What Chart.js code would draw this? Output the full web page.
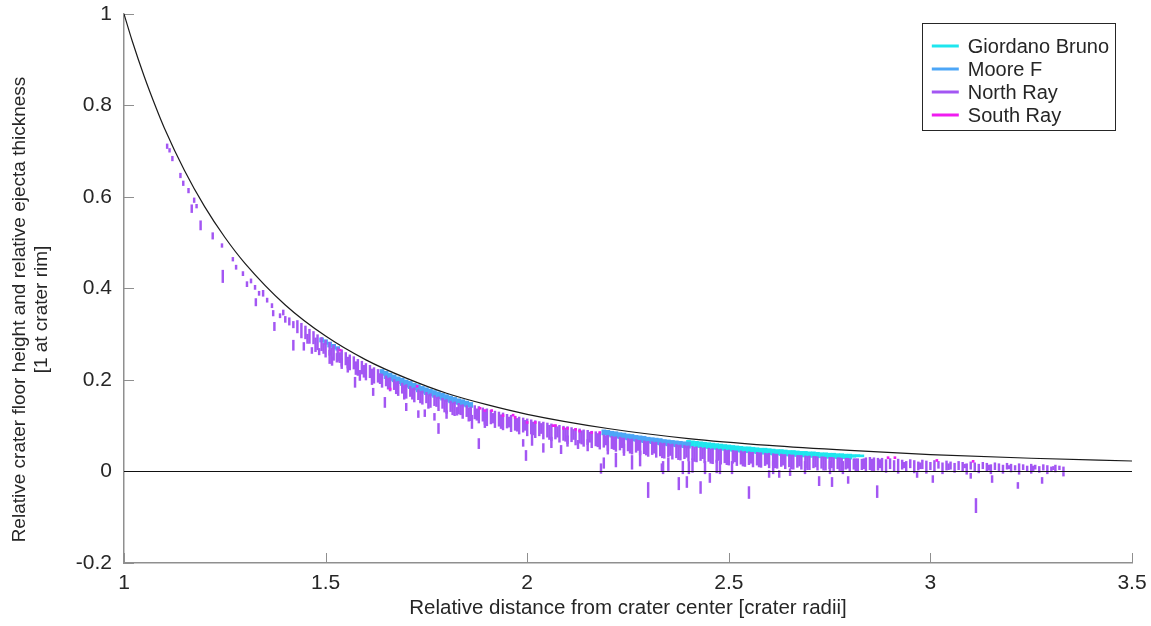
<!DOCTYPE html>
<html><head><meta charset="utf-8">
<script src="https://cdn.jsdelivr.net/npm/chart.js@4.4.1/dist/chart.umd.min.js"></script>
<style>html,body{margin:0;padding:0;background:#fff}#wrap{width:1151px;height:626px}</style>
</head><body><div id="wrap"><canvas id="c" width="1151" height="626"></canvas></div>
<script>
// ---------- data ----------
const xTickVals = [1, 1.5, 2, 2.5, 3, 3.5];
const xTickLabels = ['1', '1.5', '2', '2.5', '3', '3.5'];
const yTickVals = [-0.2, 0, 0.2, 0.4, 0.6, 0.8, 1];
const yTickLabels = ['-0.2', '0', '0.2', '0.4', '0.6', '0.8', '1'];
const xTitle = 'Relative distance from crater center [crater radii]';
const yTitle = ['Relative crater floor height and relative ejecta thickness', '[1 at crater rim]'];
const seriesNames = ['Giordano Bruno', 'Moore F', 'North Ray', 'South Ray'];

// envelope curve
const curveX = [1, 1.02, 1.05, 1.08, 1.1, 1.15, 1.2, 1.25, 1.3, 1.4, 1.5, 1.6, 1.7, 1.8, 1.9, 2, 2.2, 2.4, 2.6, 2.8, 3, 3.25, 3.5];
const curveY = [1, .942, .864, .794, .751, .658, .579, .512, .455, .364, .296, .244, .204, .171, .146, .125, .094, .072, .057, .046, .037, .029, .023];
const zeroX = [1, 3.5];

// [x, top, bottom] dashes
const gbRows = [
[2.40,.068,.056],[2.41,.067,.055],[2.42,.066,.053],[2.43,.065,.052],[2.44,.064,.051],[2.45,.063,.050],[2.46,.062,.049],[2.47,.061,.048],[2.48,.060,.047],[2.49,.059,.046],
[2.50,.058,.045],[2.51,.057,.044],[2.52,.056,.043],[2.53,.055,.042],[2.54,.054,.041],[2.55,.054,.041],[2.56,.053,.040],[2.57,.052,.039],[2.58,.051,.038],[2.59,.051,.038],
[2.60,.050,.037],[2.61,.049,.036],[2.62,.048,.036],[2.63,.048,.035],[2.64,.047,.034],[2.65,.046,.034],[2.66,.046,.033],[2.67,.045,.033],[2.68,.044,.032],[2.69,.044,.032],
[2.70,.043,.031],[2.71,.043,.031],[2.72,.042,.030],[2.73,.041,.030],[2.74,.041,.029],[2.75,.040,.029],[2.76,.040,.029],[2.77,.039,.028],[2.78,.039,.028],[2.79,.038,.028],
[2.80,.038,.027],[2.81,.037,.031],[2.82,.037,.032],[2.83,.036,.032]
];
const mfRows = [
[1.49,.292,.283],[1.50,.288,.278],[1.51,.283,.272],[1.52,.278,.268],[1.53,.273,.265],
[1.64,.223,.210],[1.65,.219,.203],[1.66,.215,.199],[1.67,.211,.196],[1.68,.207,.192],[1.69,.204,.188],[1.70,.200,.184],[1.71,.197,.181],[1.72,.193,.178],[1.73,.190,.174],
[1.74,.186,.171],[1.75,.183,.168],[1.76,.180,.165],[1.77,.177,.162],[1.78,.174,.159],[1.79,.171,.156],[1.80,.168,.153],[1.81,.165,.150],[1.82,.162,.148],[1.83,.159,.146],
[1.84,.157,.143],[1.85,.154,.141],[1.86,.151,.140],
[2.19,.091,.080],[2.20,.090,.077],[2.21,.088,.075],[2.22,.087,.073],[2.23,.085,.072],[2.24,.084,.070],[2.25,.082,.069],[2.26,.081,.067],[2.27,.079,.066],[2.28,.078,.064],
[2.29,.077,.063],[2.30,.075,.062],[2.31,.074,.061],[2.32,.073,.059],[2.33,.072,.058],[2.34,.070,.057],[2.35,.069,.056],[2.36,.068,.055],[2.37,.067,.054],[2.38,.066,.053],
[2.39,.065,.052],[2.40,.064,.051]
];
const nrBand = [
[1.43,.330,.303],[1.44,.324,.292],[1.45,.318,.290],[1.46,.311,.280],[1.47,.306,.279],[1.48,.299,.266],[1.49,.293,.264],[1.50,.287,.250],[1.51,.282,.254],[1.52,.276,.243],
[1.53,.271,.241],[1.54,.266,.230],[1.55,.260,.233],[1.56,.255,.222],[1.57,.251,.224],[1.58,.245,.210],[1.59,.241,.213],[1.60,.236,.200],[1.61,.232,.205],[1.62,.227,.193],
[1.63,.223,.195],[1.64,.213,.184],[1.65,.209,.187],[1.66,.205,.176],[1.67,.201,.179],[1.68,.197,.166],[1.69,.193,.171],[1.70,.190,.160],[1.71,.186,.164],[1.72,.183,.152],
[1.73,.179,.157],[1.74,.176,.147],[1.75,.173,.150],[1.76,.170,.140],[1.77,.166,.144],[1.78,.163,.133],[1.79,.160,.138],[1.80,.157,.127],[1.81,.154,.131],[1.82,.152,.122],
[1.83,.149,.126],[1.84,.146,.116],[1.85,.144,.120],[1.86,.141,.111],[1.87,.144,.115],[1.88,.142,.106],[1.89,.139,.110],[1.90,.137,.100],[1.91,.134,.104],[1.92,.132,.096],
[1.93,.130,.099],[1.94,.128,.091],[1.95,.125,.095],[1.96,.123,.087],[1.97,.121,.090],[1.98,.119,.082],[1.99,.117,.086],[2.00,.115,.078],[2.01,.113,.082],[2.02,.111,.074],
[2.03,.109,.078],[2.04,.108,.071],[2.05,.106,.075],[2.06,.104,.067],[2.07,.102,.071],[2.08,.101,.064],[2.09,.099,.068],[2.10,.098,.061],[2.11,.096,.065],[2.12,.094,.058],
[2.13,.093,.062],[2.14,.091,.055],[2.15,.090,.059],[2.16,.088,.052],[2.17,.087,.056],[2.18,.085,.049],[2.19,.080,.053],[2.20,.079,.046],[2.21,.077,.050],[2.22,.076,.044],
[2.23,.075,.047],[2.24,.073,.041],[2.25,.072,.045],[2.26,.071,.038],[2.27,.070,.042],[2.28,.068,.036],[2.29,.067,.039],[2.30,.066,.033],[2.31,.065,.037],[2.32,.064,.031],
[2.33,.063,.034],[2.34,.062,.029],[2.35,.061,.032],[2.36,.060,.027],[2.37,.059,.030],[2.38,.058,.025],[2.39,.057,.028],[2.40,.056,.023],[2.41,.055,.026],[2.42,.054,.021],
[2.43,.053,.024],[2.44,.052,.019],[2.45,.051,.022],[2.46,.050,.017],[2.47,.050,.020],[2.48,.049,.016],[2.49,.048,.019],[2.50,.047,.014],[2.51,.046,.018],[2.52,.045,.013],
[2.53,.045,.016],[2.54,.044,.011],[2.55,.043,.015],[2.56,.042,.010],[2.57,.042,.014],[2.58,.041,.009],[2.59,.040,.013],[2.60,.040,.008],[2.61,.039,.012],[2.62,.038,.007],
[2.63,.038,.011],[2.64,.037,.006],[2.65,.037,.010],[2.66,.036,.005],[2.67,.035,.009],[2.68,.035,.005],[2.69,.034,.008],[2.70,.034,.004],[2.71,.033,.008],[2.72,.032,.003],
[2.73,.032,.007],[2.74,.031,.003],[2.75,.031,.006],[2.76,.030,.002],[2.77,.030,.006],[2.78,.029,.002],[2.79,.029,.005],[2.80,.028,.001],[2.81,.028,.005],[2.82,.028,.001],
[2.83,.027,.004],[2.84,.030,.000],[2.85,.031,.004],[2.86,.030,.000],[2.87,.029,.003],[2.88,.029,.002],[2.89,.026,-.002],[2.90,.028,.006],[2.91,.024,.001],[2.92,.027,-.004],
[2.93,.025,.005],[2.94,.022,.000],[2.95,.026,.008],[2.96,.024,-.003],[2.97,.021,.003],[2.98,.025,.006],[2.99,.023,-.004],[3.00,.020,.004],[3.01,.024,.000],[3.02,.022,.007],
[3.03,.019,-.005],[3.04,.023,.003],[3.05,.021,.005],[3.06,.018,-.002],[3.07,.022,.004],[3.08,.020,.001],[3.09,.017,-.006],[3.10,.021,.005],[3.11,.019,.002],[3.12,.016,-.003],
[3.13,.020,.006],[3.14,.018,.000],[3.15,.015,-.005],[3.16,.019,.004],[3.17,.017,.002],[3.18,.014,-.004],[3.19,.018,.005],[3.20,.016,-.001],[3.21,.013,.003],[3.22,.017,-.006],
[3.23,.015,.004],[3.24,.012,.001],[3.25,.016,-.004],[3.26,.014,.005],[3.27,.011,-.002],[3.28,.015,.003],[3.29,.013,-.005],[3.30,.010,.002],[3.31,.014,-.001],[3.32,.012,.004],
[3.33,.010,.001]
];
const nrFill = [
[1.455,.300,.280],[1.475,.292,.262],[1.495,.280,.258],[1.515,.270,.236],[1.535,.260,.238],[1.555,.250,.226],[1.575,.240,.212],[1.595,.232,.206],[1.615,.224,.190],[1.635,.214,.192],
[1.655,.204,.180],[1.675,.196,.170],[1.695,.188,.158],[1.715,.181,.158],[1.735,.175,.150],[1.755,.168,.138],[1.775,.162,.142],[1.795,.156,.130],[1.815,.150,.124],[1.835,.145,.124],
[1.855,.139,.110],[1.875,.137,.112],[1.895,.131,.103],[1.915,.127,.106],[1.935,.124,.094],[1.955,.119,.097],[1.975,.116,.088],[1.995,.112,.090],[2.015,.108,.080],[2.035,.105,.083],
[2.055,.101,.070],[2.075,.098,.075],[2.095,.095,.066],[2.115,.092,.070],[2.135,.089,.060],[2.155,.086,.064],[2.175,.083,.054],[2.195,.078,.058],[2.215,.075,.048],[2.235,.073,.052],
[2.255,.070,.040],[2.275,.068,.046],[2.295,.065,.036],[2.315,.063,.040],[2.335,.061,.030],[2.355,.059,.035],[2.375,.057,.026],[2.395,.055,.031],[2.415,.053,.022],[2.435,.051,.028],
[2.455,.049,.018],[2.475,.048,.024],[2.495,.046,.015],[2.515,.045,.021],[2.535,.043,.012],[2.555,.042,.018],[2.575,.041,.010],[2.595,.039,.016],[2.615,.038,.008],[2.635,.037,.014],
[2.655,.036,.006],[2.675,.035,.012],[2.695,.033,.004],[2.715,.033,.010],[2.735,.032,.003],[2.755,.031,.008],[2.775,.030,.002],[2.795,.029,.007],[2.815,.028,.001],[2.835,.028,.006],
[2.855,.027,.002],[2.875,.026,.008],[2.935,.020,.008],[2.975,.019,.006],[3.045,.017,.004],[3.085,.016,.008],[3.145,.014,.003],[3.195,.013,.006],[3.255,.012,.002],[3.305,.011,.004]
];
const nrScatter = [
[1.107,.716,.706],[1.113,.706,.698],[1.12,.689,.679],[1.14,.652,.642],[1.147,.635,.625],[1.16,.619,.609],[1.174,.598,.588],[1.168,.583,.566],[1.18,.584,.576],[1.19,.548,.528],
[1.22,.522,.508],[1.243,.498,.490],[1.245,.440,.413],[1.27,.468,.460],[1.278,.451,.442],[1.295,.437,.428],[1.305,.415,.404],[1.315,.421,.412],[1.325,.407,.398],[1.335,.394,.385],
[1.327,.378,.362],[1.345,.396,.383],[1.355,.379,.370],[1.367,.367,.358],[1.37,.352,.340],[1.373,.326,.308],[1.387,.345,.336],[1.395,.353,.342],[1.40,.339,.326],[1.41,.336,.320],
[1.42,.328,.314],[1.42,.287,.265],[1.446,.282,.265],[1.466,.271,.258],[1.484,.269,.255],[1.51,.265,.236],[1.516,.250,.232],[1.528,.258,.239],[1.54,.247,.225],[1.555,.238,.217],
[1.573,.206,.184],[1.585,.221,.199],[1.618,.182,.166],[1.647,.162,.140],[1.70,.149,.133],[1.73,.133,.118],[1.746,.135,.120],[1.77,.127,.112],[1.78,.105,.083],[1.80,.133,.116],
[1.826,.140,.123],[1.863,.123,.094],[1.88,.072,.050],[1.895,.118,.096],[1.99,.070,.055],[1.997,.046,.024],[2.012,.083,.057],[2.04,.061,.042],[2.06,.075,.052],[2.084,.057,.039],
[2.10,.078,.055],[2.126,.068,.050],[2.15,.070,.045],[2.183,.017,-.004],[2.19,.030,.007],[2.20,.065,.038],[2.22,.040,.010],[2.24,.060,.035],[2.26,.035,.005],[2.28,.045,.012],
[2.30,-.024,-.057],[2.334,.017,.000],[2.337,.022,-.005],[2.35,.030,.002],[2.376,-.013,-.040],[2.386,.022,-.005],[2.396,-.011,-.035],[2.401,.022,-.005],[2.41,.028,-.002],[2.43,-.022,-.048],
[2.441,.022,-.005],[2.453,-.004,-.024],[2.47,.025,-.003],[2.478,.022,-.005],[2.508,.022,-.005],[2.55,-.033,-.059],[2.60,.002,-.013],[2.61,.022,-.005],[2.625,.002,-.013],[2.652,.006,-.009],
[2.689,.022,-.005],[2.724,-.011,-.031],[2.751,.022,-.005],[2.756,-.013,-.033],[2.783,.022,-.005],[2.796,-.011,-.026],[2.868,-.031,-.057],[2.967,-.002,-.013],[3.006,-.009,-.024],[3.10,-.004,-.015],
[3.113,-.059,-.090],[3.153,-.009,-.024],[3.217,-.024,-.037],[3.277,-.013,-.026],[3.33,-.002,-.010]
];
const srRows = [
[1.536,.267,.263],[1.66,.182,.178],[1.727,.188,.184],[1.883,.140,.136],[1.895,.135,.131],[1.912,.135,.131],[1.94,.124,.120],[1.965,.125,.121],[1.97,.120,.116],[2.0,.109,.105],
[2.02,.109,.105],[2.064,.102,.098],[2.07,.102,.098],[2.09,.096,.092],[2.1,.096,.092],[2.12,.094,.090],[2.13,.090,.086],[2.16,.087,.083],[2.18,.087,.083],[2.895,.032,.028],
[2.912,.032,.028],[3.016,.026,.022],[3.106,.024,.020]
];

// ---------- styles ----------
const FONT = '"Liberation Sans", Arial, Helvetica, sans-serif';
const TXT = '#262626';
const AXIS = '#8f8f8f';
const COL = { gb: '#1ee6ee', mf: '#4da6f7', nr: '#a356f3', sr: '#f01cf0' };

const toBars = rows => rows.map(r => ({ x: r[0], y: [r[2], r[1]] }));
const toLine = (xs, ys) => xs.map((x, i) => ({ x, y: ys[i] }));

const inwardTicks = {
  id: 'inwardTicks',
  beforeDatasetsDraw(chart) {
    const { ctx, chartArea: ca, scales: { x, y } } = chart;
    ctx.save();
    ctx.strokeStyle = AXIS; ctx.lineWidth = 1;
    ctx.beginPath();
    x.ticks.forEach(t => { const px = Math.round(x.getPixelForValue(t.value)) + 0.5; ctx.moveTo(px, ca.bottom); ctx.lineTo(px, ca.bottom - 10); });
    y.ticks.forEach(t => { const py = Math.round(y.getPixelForValue(t.value)) + 0.5; ctx.moveTo(ca.left, py); ctx.lineTo(ca.left + 10, py); });
    ctx.stroke();
    ctx.restore();
  }
};

// y-axis title (two lines, rotated), sitting a little below the axis middle as in the reference
const yTitlePlugin = {
  id: 'yTitlePlugin',
  afterDraw(chart) {
    const { ctx, chartArea: ca } = chart;
    ctx.save();
    ctx.font = '19px ' + FONT;
    ctx.fillStyle = TXT;
    ctx.textAlign = 'center'; ctx.textBaseline = 'middle';
    const cy = (ca.top + ca.bottom) / 2 + 21;
    yTitle.forEach((line, i) => {
      ctx.save();
      ctx.translate(20 + i * 22, cy);
      ctx.rotate(-Math.PI / 2);
      ctx.fillText(line, 0, 0);
      ctx.restore();
    });
    ctx.restore();
  }
};

const legendBox = {
  id: 'legendBox',
  afterDraw(chart) {
    const { ctx, chartArea: ca } = chart;
    const items = chart.data.datasets.filter(d => d.inLegend);
    ctx.save();
    ctx.font = '20px ' + FONT;
    const maxW = Math.max(...items.map(d => ctx.measureText(d.label).width));
    const padL = 10, lineLen = 27, gap = 9, padR = 6, rowH = 23, firstRow = 23;
    const w = padL + lineLen + gap + maxW + padR;
    const h = firstRow + rowH * (items.length - 1) + 15;
    const right = ca.right - 17, top = ca.top + 9, left = right - w;
    ctx.fillStyle = '#fff';
    ctx.fillRect(left, top, w, h);
    ctx.strokeStyle = '#262626'; ctx.lineWidth = 1;
    ctx.strokeRect(Math.round(left) + 0.5, Math.round(top) + 0.5, Math.round(w), Math.round(h));
    items.forEach((d, i) => {
      const cy = top + firstRow + i * rowH;
      ctx.strokeStyle = d.backgroundColor; ctx.lineWidth = 3;
      ctx.beginPath(); ctx.moveTo(left + padL, cy); ctx.lineTo(left + padL + lineLen, cy); ctx.stroke();
      ctx.fillStyle = TXT; ctx.textBaseline = 'middle'; ctx.textAlign = 'left';
      ctx.fillText(d.label, left + padL + lineLen + gap, cy + 1);
    });
    ctx.restore();
  }
};

new Chart(document.getElementById('c'), {
  type: 'bar',
  data: {
    datasets: [
      { type: 'line', label: 'envelope', data: toLine(curveX, curveY), borderColor: '#1a1a1a', borderWidth: 1.2, pointRadius: 0, cubicInterpolationMode: 'monotone', order: 0 },
      { type: 'line', label: 'zero', data: toLine(zeroX, [0, 0]), borderColor: '#111', borderWidth: 1, pointRadius: 0, order: 0 },
      { label: seriesNames[0], data: toBars(gbRows), backgroundColor: COL.gb, barThickness: 4, grouped: false, minBarLength: 2, order: 4, inLegend: true },
      { label: seriesNames[1], data: toBars(mfRows), backgroundColor: COL.mf, barThickness: 4, grouped: false, minBarLength: 2, order: 3, inLegend: true },
      { label: seriesNames[2], data: toBars(nrBand.concat(nrFill, nrScatter)), backgroundColor: COL.nr, barThickness: 1.8, grouped: false, minBarLength: 2, order: 2, inLegend: true },
      { label: seriesNames[3], data: toBars(srRows), backgroundColor: COL.sr, barThickness: 2, grouped: false, minBarLength: 2, order: 1, inLegend: true }
    ]
  },
  options: {
    responsive: false, animation: false, devicePixelRatio: 1,
    layout: { padding: { left: 0, right: 19, top: 14, bottom: 0 } },
    plugins: { legend: { display: false }, tooltip: { enabled: false } },
    scales: {
      x: {
        type: 'linear', min: 1, max: 3.5, offset: false,
        grid: { display: true, drawOnChartArea: false, drawTicks: false },
        border: { color: AXIS, width: 1.5 },
        afterBuildTicks: s => { s.ticks = xTickVals.map(v => ({ value: v })); },
        afterFit: s => { s.height = 63; s.paddingLeft = 0; s.paddingRight = 0; },
        ticks: { callback: (v, i) => xTickLabels[i], font: { family: FONT, size: 21 }, color: TXT, padding: 8, maxRotation: 0, autoSkip: false },
        title: { display: true, text: xTitle, font: { family: FONT, size: 20.5, lineHeight: 1.15 }, color: TXT, padding: { top: 0, bottom: 6 } }
      },
      y: {
        type: 'linear', min: -0.2, max: 1,
        grid: { display: true, drawOnChartArea: false, drawTicks: false },
        border: { color: AXIS, width: 1.5 },
        afterBuildTicks: s => { s.ticks = yTickVals.map(v => ({ value: v })); },
        afterFit: s => { s.width = 124; s.paddingTop = 0; s.paddingBottom = 0; },
        ticks: { callback: (v, i) => yTickLabels[i], font: { family: FONT, size: 21 }, color: TXT, padding: 12, autoSkip: false },
        title: { display: false }
      }
    }
  },
  plugins: [inwardTicks, yTitlePlugin, legendBox]
});
</script></body></html>
